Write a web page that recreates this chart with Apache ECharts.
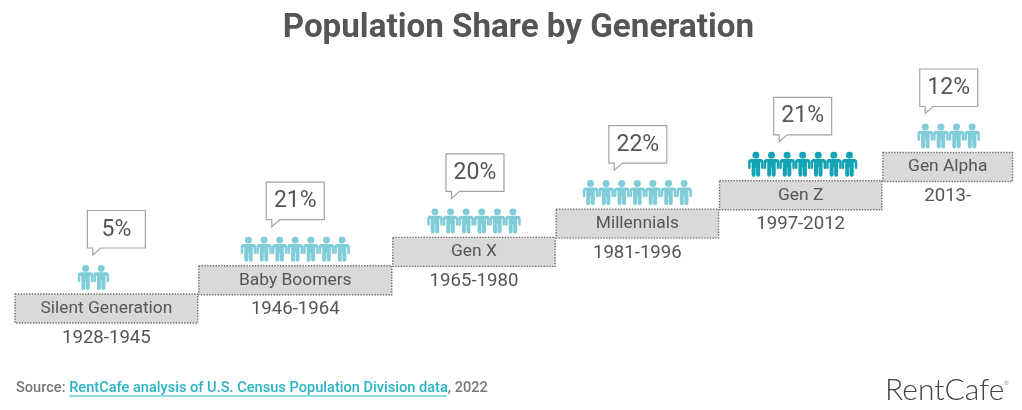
<!DOCTYPE html>
<html>
<head>
<meta charset="utf-8">
<style>html,body{margin:0;padding:0;background:#fff}#chart{width:1022px;height:410px}</style>
<script src="https://cdn.jsdelivr.net/npm/echarts@6/dist/echarts.min.js"></script>
</head>
<body>
<div id="chart"></div>
<script>
// Generations, oldest first
const generations = ['Silent Generation', 'Baby Boomers', 'Gen X', 'Millennials', 'Gen Z', 'Gen Alpha'];
const yearLabels = ['1928-1945', '1946-1964', '1965-1980', '1981-1996', '1997-2012', '2013-'];
const startYears = [1928, 1946, 1965, 1981, 1997, 2013];
const endEdges = [1946, 1965, 1981, 1997, 2013, 2025.8];
const shares = [5, 21, 20, 22, 21, 12];
const figureCounts = [2, 7, 6, 7, 7, 4];
const steps = [0, 1, 2, 3, 4, 5];
const highlighted = 'Gen Z';

// Horizontal nudges from the centre of each step
const figureShift = [-13, 0, 0, 0, 2, 1];
const bubbleShift = [-19, -29, -28, -28.5, -27, -28];

const TEXT = '#555555';
const FONT = 'Roboto';
const FIGURE_GAP = 15.6;
const FIGURE_W = 15.5;
const FIGURE_H = 25;
const BUBBLE_W = 58;
const BUBBLE_H = 37.5;
const BOX_EXTRA = 0.7;

// One person: head, shoulders with arms, split legs
const PERSON = 'M15.5 0a7 7 0 1 1-.01 0z M6 15h19a6 6 0 0 1 6 6v12a2.5 2.5 0 0 1-5 0v-11h-2v25.5a4 4 0 0 1-8 0v-15h-1v15a4 4 0 0 1-8 0v-25.5h-2v11a2.5 2.5 0 0 1-5 0v-12a6 6 0 0 1 6-6z';

function renderStep(params, api) {
  const i = params.dataIndex;
  const left = api.coord([api.value(0), api.value(2)]);
  const right = api.coord([api.value(1), api.value(2)]);
  const stepH = api.size([0, 1])[1];
  const x0 = left[0], x1 = right[0], top = left[1];
  const cx = (x0 + x1) / 2;
  const h = stepH + BOX_EXTRA;
  const children = [];

  children.push({
    type: 'rect',
    shape: { x: x0 + 0.5, y: top, width: x1 - x0 - 1, height: h },
    style: { fill: '#d9d9d9', stroke: '#6f6f6f', lineWidth: 1.4, lineDash: [1.4, 1.4] }
  });
  children.push({
    type: 'text',
    style: { x: cx, y: top + h / 2, text: generations[i], fill: TEXT, font: '400 17.4px ' + FONT, align: 'center', verticalAlign: 'middle' }
  });
  children.push({
    type: 'text',
    style: { x: cx, y: top + h + 15, text: yearLabels[i], fill: TEXT, font: '400 18.6px ' + FONT, align: 'center', verticalAlign: 'middle' }
  });

  // Row of people standing on the step
  const n = api.value(4);
  const fx = cx + figureShift[i];
  const color = generations[i] === highlighted ? '#12a3b5' : '#80cdd9';
  for (let k = 0; k < n; k++) {
    const px = fx + (k - (n - 1) / 2) * FIGURE_GAP;
    children.push({
      type: 'path',
      shape: { pathData: PERSON, x: px - FIGURE_W / 2, y: top - 4 - FIGURE_H, width: FIGURE_W, height: FIGURE_H, layout: 'cover' },
      style: { fill: color }
    });
  }

  // Speech bubble with the share
  const bx = cx + bubbleShift[i];
  const bBottom = top - 46;
  const bTop = bBottom - BUBBLE_H;
  children.push({
    type: 'polygon',
    shape: { points: [
      [bx, bTop], [bx + BUBBLE_W, bTop], [bx + BUBBLE_W, bBottom],
      [bx + 13.5, bBottom], [bx + 5.5, bBottom + 7], [bx + 5.5, bBottom], [bx, bBottom]
    ] },
    style: { fill: '#ffffff', stroke: '#a3a3a3', lineWidth: 1.2 }
  });
  children.push({
    type: 'text',
    style: { x: bx + BUBBLE_W / 2, y: (bTop + bBottom) / 2 + 0.5, text: api.value(3) + '%', fill: TEXT, font: '400 23px ' + FONT, align: 'center', verticalAlign: 'middle' }
  });

  return { type: 'group', children };
}

const chart = echarts.init(document.getElementById('chart'), null, { renderer: 'canvas' });
chart.setOption({
  animation: false,
  backgroundColor: '#ffffff',
  title: {
    text: 'Population Share by Generation',
    left: 277.7,
    top: 7,
    textStyle: { fontFamily: FONT, fontWeight: 700, fontSize: 33.2, color: TEXT }
  },
  grid: { left: 14.5, top: 124.2, width: 1000.6, height: 198.1 },
  xAxis: { type: 'value', min: 1928, max: 2026, show: false },
  yAxis: { type: 'value', min: -1, max: 6, show: false },
  series: [{
    type: 'custom',
    clip: false,
    silent: true,
    renderItem: renderStep,
    encode: { x: [0, 1], y: 2 },
    data: generations.map((g, i) => [startYears[i], endEdges[i], steps[i], shares[i], figureCounts[i]])
  }],
  graphic: [
    {
      type: 'text', left: 16, top: 381,
      style: {
        text: '{s|Source: }{l|RentCafe analysis of U.S. Census Population Division data}{s|, 2022}',
        rich: {
          s: { fontFamily: FONT, fontWeight: 500, fontSize: 14.6, fill: '#777777' },
          l: { fontFamily: FONT, fontWeight: 500, fontSize: 14.6, fill: '#2bb3c4' }
        }
      }
    },
    {
      type: 'line', shape: { x1: 69, y1: 396, x2: 447, y2: 396 },
      style: { stroke: '#2bb3c4', lineWidth: 1 }
    },
    {
      type: 'text', left: 885, top: 375,
      style: { text: 'RentCafe', fontFamily: 'Lato', fontWeight: 300, fontSize: 30, fill: '#444444' }
    },
    {
      type: 'text', left: 1004, top: 380,
      style: { text: '®', fontFamily: 'Lato', fontSize: 6, fill: '#999999' }
    }
  ]
});
</script>
</body>
</html>
